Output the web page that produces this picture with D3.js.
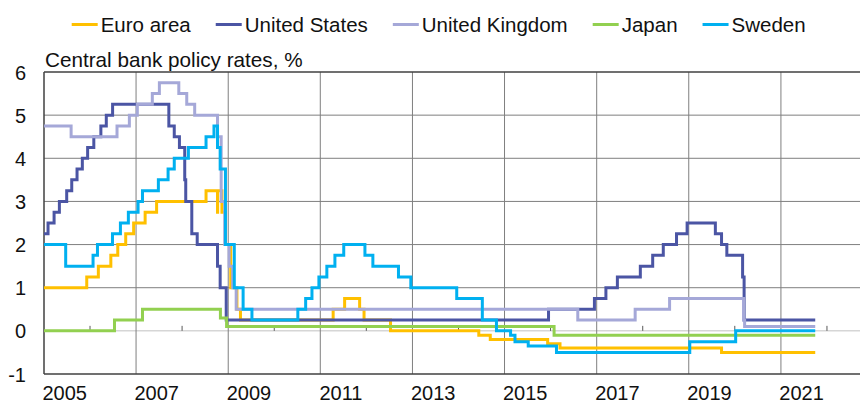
<!DOCTYPE html>
<html>
<head>
<meta charset="utf-8">
<script src="https://cdn.jsdelivr.net/npm/d3@7"></script>
<style>
  body { margin: 0; background: #fff; }
  svg text { font-family: "Liberation Sans", Arial, sans-serif; font-size: 20px; fill: #111; }
  svg text.legend-label { font-size: 20.5px; }
  svg text.title { font-size: 20.7px; }
</style>
</head>
<body>
<div id="chart"></div>
<script>
// policy rate changes: [date from which the rate applies, rate %]
const euroArea = [
  ["2005-01-01", 1.0], ["2005-12-06", 1.25], ["2006-03-08", 1.5], ["2006-06-15", 1.75],
  ["2006-08-09", 2.0], ["2006-10-11", 2.25], ["2006-12-13", 2.5], ["2007-03-14", 2.75],
  ["2007-06-13", 3.0], ["2008-07-09", 3.25], ["2008-10-08", 2.75], ["2008-10-09", 3.25],
  ["2008-11-12", 2.75], ["2008-12-10", 2.0], ["2009-01-21", 1.0], ["2009-03-11", 0.5],
  ["2009-04-08", 0.25], ["2011-04-13", 0.5], ["2011-07-13", 0.75], ["2011-11-09", 0.5],
  ["2011-12-14", 0.25], ["2012-07-11", 0.0], ["2014-06-11", -0.1], ["2014-09-10", -0.2],
  ["2015-12-09", -0.3], ["2016-03-16", -0.4], ["2019-09-18", -0.5]
];
const unitedStates = [
  ["2005-01-01", 2.25], ["2005-02-02", 2.5], ["2005-03-22", 2.75], ["2005-05-03", 3.0],
  ["2005-06-30", 3.25], ["2005-08-09", 3.5], ["2005-09-20", 3.75], ["2005-11-01", 4.0],
  ["2005-12-13", 4.25], ["2006-01-31", 4.5], ["2006-03-28", 4.75], ["2006-05-10", 5.0],
  ["2006-06-29", 5.25], ["2007-09-18", 4.75], ["2007-10-31", 4.5], ["2007-12-11", 4.25],
  ["2008-01-22", 3.5], ["2008-01-30", 3.0], ["2008-03-18", 2.25], ["2008-04-30", 2.0],
  ["2008-10-08", 1.5], ["2008-10-29", 1.0], ["2008-12-16", 0.25], ["2015-12-16", 0.5],
  ["2016-12-14", 0.75], ["2017-03-15", 1.0], ["2017-06-14", 1.25], ["2017-12-13", 1.5],
  ["2018-03-21", 1.75], ["2018-06-13", 2.0], ["2018-09-26", 2.25], ["2018-12-19", 2.5],
  ["2019-07-31", 2.25], ["2019-09-18", 2.0], ["2019-10-30", 1.75], ["2020-03-03", 1.25],
  ["2020-03-15", 0.25]
];
const unitedKingdom = [
  ["2005-01-01", 4.75], ["2005-08-04", 4.5], ["2006-08-03", 4.75], ["2006-11-09", 5.0],
  ["2007-01-11", 5.25], ["2007-05-10", 5.5], ["2007-07-05", 5.75], ["2007-12-06", 5.5],
  ["2008-02-07", 5.25], ["2008-04-10", 5.0], ["2008-10-08", 4.5], ["2008-11-06", 3.0],
  ["2008-12-04", 2.0], ["2009-01-08", 1.5], ["2009-02-05", 1.0], ["2009-03-05", 0.5],
  ["2016-08-04", 0.25], ["2017-11-02", 0.5], ["2018-08-02", 0.75], ["2020-03-11", 0.25],
  ["2020-03-19", 0.1]
];
const japan = [
  ["2005-01-01", 0.0], ["2006-07-14", 0.25], ["2007-02-21", 0.5], ["2008-10-31", 0.3],
  ["2008-12-19", 0.1], ["2016-01-29", -0.1]
];
const sweden = [
  ["2005-01-01", 2.0], ["2005-06-22", 1.5], ["2006-01-25", 1.75], ["2006-03-01", 2.0],
  ["2006-06-28", 2.25], ["2006-08-30", 2.5], ["2006-11-01", 2.75], ["2007-01-17", 3.0],
  ["2007-02-21", 3.25], ["2007-06-27", 3.5], ["2007-09-12", 3.75], ["2007-10-31", 4.0],
  ["2008-02-20", 4.25], ["2008-07-09", 4.5], ["2008-09-10", 4.75], ["2008-10-08", 4.25],
  ["2008-10-29", 3.75], ["2008-12-10", 2.0], ["2009-02-18", 1.0], ["2009-04-29", 0.5],
  ["2009-07-08", 0.25], ["2010-07-07", 0.5], ["2010-09-07", 0.75], ["2010-10-27", 1.0],
  ["2010-12-21", 1.25], ["2011-02-22", 1.5], ["2011-04-27", 1.75], ["2011-07-06", 2.0],
  ["2011-12-21", 1.75], ["2012-02-22", 1.5], ["2012-09-12", 1.25], ["2012-12-19", 1.0],
  ["2013-12-18", 0.75], ["2014-07-09", 0.25], ["2014-10-29", 0.0], ["2015-02-18", -0.1],
  ["2015-03-25", -0.25], ["2015-07-08", -0.35], ["2016-02-17", -0.5], ["2019-01-09", -0.25],
  ["2020-01-08", 0.0]
];

const seriesNames = ["Euro area", "United States", "United Kingdom", "Japan", "Sweden"];
const seriesData = [euroArea, unitedStates, unitedKingdom, japan, sweden];
const seriesColors = ["#FFC000", "#4B55A4", "#A5A8D8", "#92D050", "#00B0F0"];

const lastDate = "2021-09-30";
const yTicks = [-1, 0, 1, 2, 3, 4, 5, 6];
const labelYears = [2005, 2007, 2009, 2011, 2013, 2015, 2017, 2019, 2021];
const tickYears = [2006, 2008, 2010, 2012, 2014, 2016, 2018, 2020, 2022];
const title = "Central bank policy rates, %";

const width = 860, height = 405;
const parse = d3.timeParse("%Y-%m-%d");
const yearDate = (yr, frac = 0) => new Date(yr, 0, 1 + Math.round(frac * 365));

const x = d3.scaleTime()
  .domain([parse("2005-01-01"), parse("2022-09-20")])
  .range([44, 860]);
const y = d3.scaleLinear().domain([-1, 6]).range([374, 72]);

const svg = d3.select("#chart").append("svg")
  .attr("width", width)
  .attr("height", height);

// horizontal gridlines
svg.append("g")
  .selectAll("line")
  .data(yTicks.filter(v => v > -1 && v < 6))
  .join("line")
  .attr("x1", x.range()[0]).attr("x2", x.range()[1])
  .attr("y1", d => y(d)).attr("y2", d => y(d))
  .attr("stroke", d => d === 0 ? "#d6d6d6" : "#7f7f7f")
  .attr("stroke-width", d => d === 0 ? 1.5 : 1);

// vertical gridlines at every second year
svg.append("g")
  .selectAll("line")
  .data(labelYears.slice(1))
  .join("line")
  .attr("x1", d => x(yearDate(d))).attr("x2", d => x(yearDate(d)))
  .attr("y1", y(6)).attr("y2", y(-1))
  .attr("stroke", "#7f7f7f")
  .attr("stroke-width", 1);

// small ticks on the zero line
svg.append("g")
  .selectAll("line")
  .data(tickYears)
  .join("line")
  .attr("x1", d => x(yearDate(d))).attr("x2", d => x(yearDate(d)))
  .attr("y1", y(0) - 5).attr("y2", y(0))
  .attr("stroke", "#595959")
  .attr("stroke-width", 1);

// frame: top, bottom, left
svg.append("line")
  .attr("x1", x.range()[0]).attr("x2", x.range()[1])
  .attr("y1", y(6)).attr("y2", y(6))
  .attr("stroke", "#404040").attr("stroke-width", 1.3);
svg.append("line")
  .attr("x1", x.range()[0]).attr("x2", x.range()[1])
  .attr("y1", y(-1)).attr("y2", y(-1))
  .attr("stroke", "#404040").attr("stroke-width", 1.5);
svg.append("line")
  .attr("x1", x.range()[0]).attr("x2", x.range()[0])
  .attr("y1", y(6)).attr("y2", y(-1))
  .attr("stroke", "#404040").attr("stroke-width", 1.5);

// y labels
svg.append("g")
  .selectAll("text")
  .data(yTicks)
  .join("text")
  .attr("x", 26)
  .attr("y", d => y(d) + 7.5)
  .attr("text-anchor", "end")
  .text(d => d);

// x labels (kept just inside the bottom edge)
svg.append("g")
  .selectAll("text")
  .data(labelYears)
  .join("text")
  .attr("x", d => x(yearDate(d, 0.45)))
  .attr("y", 400)
  .attr("text-anchor", "middle")
  .text(d => d);

// title
svg.append("text")
  .attr("class", "title")
  .attr("x", 45)
  .attr("y", 67)
  .text(title);

// step lines
const line = d3.line()
  .x(d => x(d.date))
  .y(d => y(d.rate))
  .curve(d3.curveStepAfter);

seriesData.forEach((rows, i) => {
  const pts = rows.map(([dt, r]) => ({ date: parse(dt), rate: r }));
  pts.push({ date: parse(lastDate), rate: rows[rows.length - 1][1] });
  svg.append("path")
    .datum(pts)
    .attr("fill", "none")
    .attr("stroke", seriesColors[i])
    .attr("stroke-width", 3)
    .attr("stroke-linejoin", "miter")
    .attr("d", line);
});

// legend
const legend = svg.append("g");
let lx = 71.7;
seriesNames.forEach((name, i) => {
  legend.append("line")
    .attr("x1", lx).attr("x2", lx + 26)
    .attr("y1", 24.5).attr("y2", 24.5)
    .attr("stroke", seriesColors[i])
    .attr("stroke-width", 3);
  const t = legend.append("text")
    .attr("class", "legend-label")
    .attr("x", lx + 29)
    .attr("y", 32)
    .text(name);
  lx += 29 + t.node().getComputedTextLength() + 25;
});
</script>
</body>
</html>
